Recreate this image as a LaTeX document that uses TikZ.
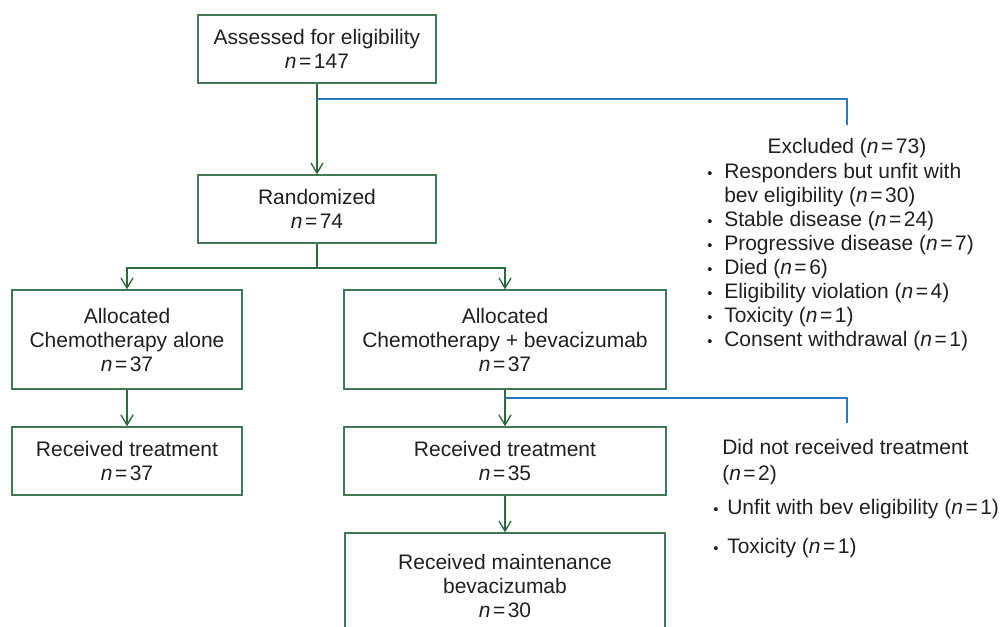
\documentclass[tikz,border=0pt]{standalone}
\usepackage{fontspec}
\setmainfont{Liberation Sans}
\usetikzlibrary{arrows.meta}
\definecolor{boxgreen}{HTML}{3F7A55}
\definecolor{arrgreen}{HTML}{2A6A3C}
\definecolor{exblue}{HTML}{2A78C0}
\definecolor{txt}{HTML}{231F20}
\newcommand{\nval}[1]{\textit{n}\kern0.12em=\kern0.12em#1}
\begin{document}
\begin{tikzpicture}[x=0.75pt,y=-0.75pt,
  font=\fontsize{15.75}{18}\selectfont, text=txt,
  box/.style={draw=boxgreen, line width=1pt, align=center, inner sep=0pt, rectangle},
  arr/.style={draw=arrgreen, line width=1pt, -{Straight Barb[length=7.5pt,width=9pt]}},
  link/.style={draw=arrgreen, line width=1pt},
  exline/.style={draw=exblue, line width=1pt},
  itemtext/.style={anchor=base west, inner sep=0pt},
  bul/.style={anchor=base west, inner sep=0pt, font=\fontsize{11}{12}\selectfont}]
\path[use as bounding box] (0,0) rectangle (1001,627);
\clip (0,0) rectangle (1001,627);

% boxes
\node[box, minimum width=178.5pt, minimum height=51pt] (assess) at (317,49)
  {Assessed for eligibility\\\nval{147}};
\node[box, minimum width=178.5pt, minimum height=51pt] (rand) at (317,209)
  {Randomized\\\nval{74}};
\node[box, minimum width=172.5pt, minimum height=74.25pt] (allocA) at (127,339.5)
  {Allocated\\Chemotherapy alone\\\nval{37}};
\node[box, minimum width=241.5pt, minimum height=74.25pt] (allocB) at (505,339.5)
  {Allocated\\Chemotherapy + bevacizumab\\\nval{37}};
\node[box, minimum width=172.5pt, minimum height=51pt] (recA) at (127,461)
  {Received treatment\\\nval{37}};
\node[box, minimum width=241.5pt, minimum height=51pt] (recB) at (505,461)
  {Received treatment\\\nval{35}};
\node[box, minimum width=240pt, minimum height=79.5pt] (maint) at (505,586)
  {Received maintenance\\bevacizumab\\\nval{30}};

% coordinates
\coordinate (b1) at (317,99);
\coordinate (b1e) at (847,125);
\coordinate (br) at (317,268);
\coordinate (b2) at (505,398);
\coordinate (b2e) at (847,423);

% connectors
\draw[arr] (assess.south) -- (rand.north);
\draw[exline] (b1) -| (b1e);
\draw[link] (rand.south) -- (br);
\draw[arr] (br) -| (allocA.north);
\draw[arr] (br) -| (allocB.north);
\draw[arr] (allocA.south) -- (recA.north);
\draw[arr] (allocB.south) -- (recB.north);
\draw[exline] (b2) -| (b2e);
\draw[arr] (recB.south) -- (maint.north);

% excluded list
\node[anchor=base, inner sep=0pt] (ex0) at (847,154) {Excluded (\nval{73})};
\node[bul] (xb1) at (707,179) {•};
\node[itemtext] (ex1) at (724,179) {Responders but unfit with};
\node[itemtext] (ex1b) at (724,203) {bev eligibility (\nval{30})};
\node[bul] (xb2) at (707,227) {•};
\node[itemtext] (ex2) at (724,227) {Stable disease (\nval{24})};
\node[bul] (xb3) at (707,251) {•};
\node[itemtext] (ex3) at (724,251) {Progressive disease (\nval{7})};
\node[bul] (xb4) at (707,275) {•};
\node[itemtext] (ex4) at (724,275) {Died (\nval{6})};
\node[bul] (xb5) at (707,299) {•};
\node[itemtext] (ex5) at (724,299) {Eligibility violation (\nval{4})};
\node[bul] (xb6) at (707,323) {•};
\node[itemtext] (ex6) at (724,323) {Toxicity (\nval{1})};
\node[bul] (xb7) at (707,347) {•};
\node[itemtext] (ex7) at (724,347) {Consent withdrawal (\nval{1})};

% did not receive list
\node[itemtext] (dn0) at (722,455) {Did not received treatment};
\node[itemtext] (dn0b) at (722,481) {(\nval{2})};
\node[bul] (db1) at (713,515) {•};
\node[itemtext] (dn1) at (727,515) {Unfit with bev eligibility (\nval{1})};
\node[bul] (db2) at (713,554) {•};
\node[itemtext] (dn2) at (727,554) {Toxicity (\nval{1})};
\end{tikzpicture}
\end{document}
